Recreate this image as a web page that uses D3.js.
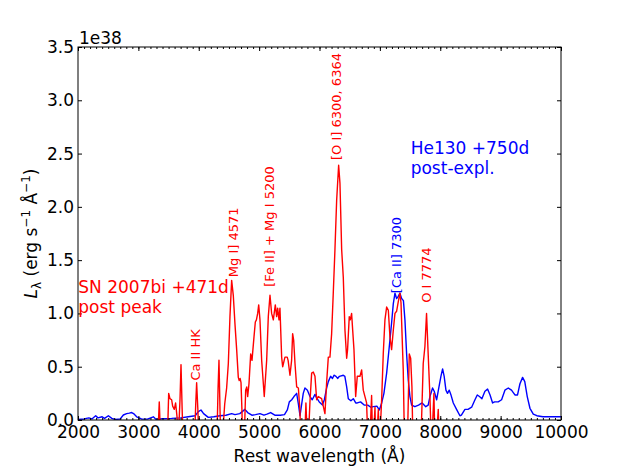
<!DOCTYPE html>
<html>
<head>
<meta charset="utf-8">
<script src="https://cdn.jsdelivr.net/npm/d3@7"></script>
<style>
body { margin: 0; background: #fff; }
text { font-family: "DejaVu Sans", sans-serif; }
</style>
</head>
<body>
<div id="SpecViz"></div>
<script>
// tick values
const xTicks = [2000, 3000, 4000, 5000, 6000, 7000, 8000, 9000, 10000];
const yTicks = [0, 0.5, 1.0, 1.5, 2.0, 2.5, 3.0, 3.5];
const yTickLabels = ["0.0", "0.5", "1.0", "1.5", "2.0", "2.5", "3.0", "3.5"];

// SN 2007bi, +471d post peak (units of 1e38)
const snWave = [3300, 3330, 3346, 3370, 3480, 3502, 3523, 3551, 3568, 3595, 3617, 3640, 3660, 3690, 3706, 3725, 3745,
  3930, 3950, 3965, 3985, 4010, 4300, 4320, 4335, 4352, 4370, 4400, 4430, 4462, 4490, 4517, 4545, 4572, 4600, 4628,
  4655, 4670, 4685, 4700, 4715, 4730, 4760, 4777, 4795, 4810, 4832, 4860, 4882, 4915, 4937, 4955, 4976, 4993, 5014,
  5042, 5085, 5125, 5152, 5180, 5207, 5235, 5268, 5290, 5307, 5329, 5345, 5373, 5390, 5428, 5465, 5480, 5511, 5538,
  5555, 5572, 5594, 5622, 5650, 5676, 5695, 5760, 5775, 5800, 5825, 5842, 5870, 5897, 5925, 5953, 5980, 6035, 6090,
  6118, 6146, 6173, 6201, 6228, 6256, 6284, 6317, 6339, 6367, 6394, 6422, 6450, 6465, 6493, 6510, 6532, 6550, 6571,
  6599, 6626, 6670, 6698, 6725, 6753, 6780, 6808, 6840, 6863, 6880, 6905, 6919, 6935, 6960, 6975, 6990, 7030, 7056,
  7084, 7112, 7140, 7167, 7194, 7222, 7250, 7277, 7305, 7332, 7350, 7387, 7410, 7460, 7487, 7510, 7531, 7550, 7680,
  7718, 7746, 7773, 7800, 7829, 7856, 7880, 7895, 7915, 7950, 7967, 7990];
const snLum = [-0.3, -0.05, 0.17, -0.2, -0.2, 0.25, 0.20, 0.19, 0.13, 0.10, 0.16, 0.03, -0.2, 0.2, 0.52, 0.1, -0.3,
  -0.2, 0.15, 0.35, 0.1, -0.3, -0.2, 0.3, 0.56, 0.1, -0.3, -0.1, 0.15, 0.30, 0.53, 0.97, 1.31, 1.17, 0.9, 0.66,
  0.4, 0.37, 0.39, 0.35, 0.1, -0.3, -0.05, 0.28, 0.31, 0.22, 0.34, 0.62, 0.56, 0.78, 0.92, 0.94, 1.0, 1.08, 0.94,
  0.56, 0.22, 0.56, 0.97, 1.17, 1.0, 0.94, 1.08, 0.97, 1.05, 0.94, 1.05, 0.59, 0.50, 0.59, 0.59, 0.56, 0.42, 0.56,
  0.81, 0.75, 0.53, 0.31, 0.30, 0.09, -0.3, -0.1, 0.16, -0.2, -0.05, 0.17, 0.44, 0.45, 0.41, 0.19, 0.22, 0.20, 0.06,
  0.35, 0.59, 0.59, 0.81, 1.19, 1.60, 2.06, 2.39, 2.22, 1.60, 1.34, 0.84, 0.58, 0.66, 0.97, 0.94, 1.0, 0.84, 0.66,
  0.22, 0.41, 0.41, 0.47, 0.28, 0.22, 0.16, -0.3, -0.1, 0.23, -0.2, -0.05, 0.12, -0.3, -0.05, 0.1, -0.3, 0.2, 0.62,
  0.94, 1.06, 1.03, 0.78, 0.66, 0.84, 1.0, 1.02, 1.11, 1.19, 1.1, 0.47, -0.3, -0.1, 0.62, 0.58, 0.31, -0.3, -0.2,
  0.53, 0.69, 1.0, 0.62, 0.22, -0.3, 0.05, 0.25, -0.3, -0.05, 0.1, -0.3];

// He130 model, +750d post-explosion (units of 1e38)
const heWave = [2000, 2100, 2180, 2230, 2293, 2330, 2400, 2440, 2503, 2560, 2620, 2700, 2751, 2806, 2850, 2889, 2920,
  2972, 3050, 3150, 3248, 3290, 3400, 3550, 3700, 3827, 3940, 3993, 4037, 4080, 4158, 4250, 4352, 4450, 4545, 4600,
  4680, 4765, 4810, 4880, 4940, 5014, 5080, 5130, 5191, 5260, 5350, 5420, 5467, 5500, 5540, 5577, 5622, 5650, 5677,
  5700, 5731, 5759, 5800, 5842, 5880, 5925, 5950, 5996, 6050, 6080, 6118, 6146, 6184, 6215, 6240, 6273, 6300, 6330,
  6394, 6420, 6450, 6477, 6520, 6560, 6600, 6626, 6680, 6740, 6800, 6850, 6891, 6950, 6991, 7030, 7067, 7112, 7156,
  7194, 7222, 7250, 7277, 7305, 7332, 7360, 7390, 7415, 7443, 7470, 7498, 7526, 7580, 7640, 7700, 7760, 7800, 7829,
  7873, 7900, 7940, 7975, 8011, 8039, 8065, 8094, 8120, 8149, 8175, 8216, 8270, 8326, 8350, 8409, 8460, 8520, 8575,
  8613, 8650, 8690, 8740, 8784, 8825, 8867, 8900, 8960, 9016, 9071, 9127, 9180, 9237, 9280, 9320, 9364, 9400, 9441,
  9486, 9541, 9600, 9700, 9817, 10000];
const heLum = [0.005, 0.01, 0.02, 0.01, 0.04, 0.02, 0.03, 0.015, 0.04, 0.015, 0.005, 0.01, 0.047, 0.06, 0.065, 0.07, 0.06,
  0.03, 0.01, 0.008, 0.03, 0.008, 0.012, 0.015, 0.02, 0.03, 0.04, 0.078, 0.094, 0.06, 0.025, 0.03, 0.04, 0.045, 0.06, 0.05,
  0.06, 0.1, 0.07, 0.045, 0.05, 0.06, 0.045, 0.055, 0.07, 0.045, 0.045, 0.05, 0.094, 0.17, 0.19, 0.22, 0.25, 0.15, 0.04,
  0.13, 0.25, 0.30, 0.28, 0.22, 0.19, 0.24, 0.21, 0.17, 0.14, 0.19, 0.30, 0.36, 0.41, 0.39, 0.42, 0.41, 0.39, 0.41,
  0.42, 0.41, 0.31, 0.20, 0.18, 0.2, 0.16, 0.16, 0.17, 0.14, 0.14, 0.12, 0.125, 0.13, 0.094, 0.16, 0.25, 0.44, 0.69,
  0.91, 1.09, 1.19, 1.14, 1.16, 1.19, 1.14, 1.12, 0.94, 0.62, 0.375, 0.22, 0.14, 0.125, 0.14, 0.16, 0.125, 0.14, 0.22,
  0.30, 0.27, 0.19, 0.3, 0.41, 0.48, 0.41, 0.28, 0.25, 0.28, 0.24, 0.16, 0.1, 0.04, 0.045, 0.1, 0.1, 0.12, 0.19,
  0.235, 0.22, 0.2, 0.27, 0.29, 0.235, 0.16, 0.17, 0.17, 0.19, 0.28, 0.30, 0.28, 0.235, 0.235, 0.34, 0.40, 0.36, 0.22,
  0.11, 0.056, 0.04, 0.03, 0.03, 0.03];

// line identifications
const lineLabels = ["Ca II HK", "Mg I] 4571", "[Fe II] + Mg I 5200", "[O I] 6300, 6364", "[Ca II] 7300", "O I 7774"];
const lineWave = [3940, 4572, 5165, 6285, 7280, 7774];
const lineLum = [0.37, 1.34, 1.25, 2.44, 1.19, 1.10];
const lineSeries = ["sn", "sn", "sn", "sn", "he", "sn"];

const seriesColor = { sn: "#ff0000", he: "#0000ff" };

// chart geometry
const width = 623, height = 467;
const margin = { top: 47, right: 62, bottom: 47, left: 78 };
const chartwidth = width - margin.left - margin.right;
const chartheight = height - margin.top - margin.bottom;

const svg = d3.select("#SpecViz")
  .append("svg")
  .attr("width", width)
  .attr("height", height);

const g = svg.append("g")
  .attr("transform", "translate(" + margin.left + "," + margin.top + ")");

const xscale = d3.scaleLinear().domain([2000, 10000]).range([0, chartwidth]);
const yscale = d3.scaleLinear().domain([0, 3.5]).range([chartheight, 0]);

svg.append("defs").append("clipPath")
  .attr("id", "plotclip")
  .append("rect")
  .attr("width", chartwidth)
  .attr("height", chartheight);

// spectra
const line = d3.line()
  .x(d => xscale(d[0]))
  .y(d => yscale(d[1]));

const lines = g.append("g").attr("clip-path", "url(#plotclip)");

lines.append("path")
  .datum(heWave.map((w, i) => [w, heLum[i]]))
  .attr("fill", "none")
  .attr("stroke", seriesColor.he)
  .attr("stroke-width", 1.4)
  .attr("stroke-linejoin", "round")
  .attr("d", line);

lines.append("path")
  .datum(snWave.map((w, i) => [w, snLum[i]]))
  .attr("fill", "none")
  .attr("stroke", seriesColor.sn)
  .attr("stroke-width", 1.4)
  .attr("stroke-linejoin", "round")
  .attr("d", line);

// axes, ticks pointing inward like matplotlib classic
const minorX = xscale.ticks(80);
const fontSize = "17px";

const styleAxis = sel => {
  sel.select(".domain").remove();
  sel.selectAll(".tick line").attr("stroke", "#000");
  sel.selectAll("text").attr("fill", "#000").style("font-size", fontSize)
    .style("font-family", "'DejaVu Sans', sans-serif");
};

g.append("g")
  .attr("transform", "translate(0," + chartheight + ")")
  .call(d3.axisBottom(xscale).tickValues(minorX).tickSize(-2).tickFormat(""))
  .call(styleAxis);
g.append("g")
  .attr("transform", "translate(0," + chartheight + ")")
  .call(d3.axisBottom(xscale).tickValues(xTicks).tickSize(-4).tickPadding(6).tickFormat(d3.format("d")))
  .call(styleAxis);

g.append("g")
  .call(d3.axisTop(xscale).tickValues(minorX).tickSize(-2).tickFormat(""))
  .call(styleAxis);
g.append("g")
  .call(d3.axisTop(xscale).tickValues(xTicks).tickSize(-4).tickFormat(""))
  .call(styleAxis);

g.append("g")
  .call(d3.axisLeft(yscale).tickValues(yTicks).tickSize(-4).tickPadding(4)
    .tickFormat((d, i) => yTickLabels[i]))
  .call(styleAxis);
g.append("g")
  .attr("transform", "translate(" + chartwidth + ",0)")
  .call(d3.axisRight(yscale).tickValues(yTicks).tickSize(-4).tickFormat(""))
  .call(styleAxis);

// frame
g.append("rect")
  .attr("width", chartwidth)
  .attr("height", chartheight)
  .attr("fill", "none")
  .attr("stroke", "#000")
  .attr("stroke-width", 1);

// offset text
g.append("text")
  .attr("x", 1)
  .attr("y", -3)
  .style("font-size", fontSize)
  .text("1e38");

// axis labels
svg.append("text")
  .attr("x", margin.left + chartwidth / 2)
  .attr("y", 462)
  .attr("text-anchor", "middle")
  .style("font-size", fontSize)
  .text("Rest wavelength (Å)");

const ylab = svg.append("text")
  .attr("transform", "translate(37," + (margin.top + chartheight / 2) + ") rotate(-90)")
  .attr("text-anchor", "middle")
  .style("font-size", fontSize);
ylab.append("tspan").style("font-style", "italic").text("L");
ylab.append("tspan").attr("dy", 4).style("font-size", "12px").text("λ");
ylab.append("tspan").attr("dy", -4).text(" (erg s");
ylab.append("tspan").attr("dy", -7).style("font-size", "12px").text("−1");
ylab.append("tspan").attr("dy", 7).text(" Å");
ylab.append("tspan").attr("dy", -7).style("font-size", "12px").text("−1");
ylab.append("tspan").attr("dy", 7).text(")");

// line identification labels
g.selectAll(".linelabel")
  .data(lineLabels)
  .join("text")
  .attr("class", "linelabel")
  .attr("transform", (d, i) => "translate(" + xscale(lineWave[i]) + "," + yscale(lineLum[i]) + ") rotate(-90)")
  .attr("dy", "0.36em")
  .attr("fill", (d, i) => seriesColor[lineSeries[i]])
  .style("font-size", "13px")
  .text(d => d);

// series labels
const snText = g.append("text")
  .attr("fill", seriesColor.sn)
  .style("font-size", fontSize)
  .attr("transform", "translate(" + xscale(2005) + "," + yscale(1.195) + ")");
snText.append("tspan").attr("x", 0).text("SN 2007bi +471d");
snText.append("tspan").attr("x", 0).attr("dy", "1.2em").text("post peak");

const heText = g.append("text")
  .attr("fill", seriesColor.he)
  .style("font-size", fontSize)
  .attr("transform", "translate(" + xscale(7510) + "," + yscale(2.495) + ")");
heText.append("tspan").attr("x", 0).text("He130 +750d");
heText.append("tspan").attr("x", 0).attr("dy", "1.2em").text("post-expl.");
</script>
</body>
</html>
